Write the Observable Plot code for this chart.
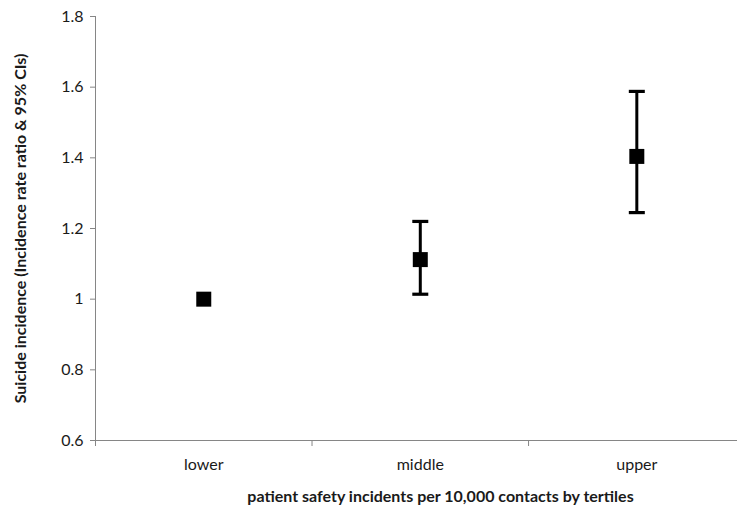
<!DOCTYPE html>
<html>
<head>
<meta charset="utf-8">
<script src="https://cdn.jsdelivr.net/npm/d3@7"></script>
<script src="https://cdn.jsdelivr.net/npm/@observablehq/plot@0.6"></script>
<style>
  html, body { margin: 0; padding: 0; background: #fff; overflow: hidden; }
</style>
</head>
<body>
<div id="chart"></div>
<script>
const categories = ["lower", "middle", "upper"];
const irr = [1.0, 1.112, 1.404];
const ciLow = [null, 1.014, 1.245];
const ciHigh = [null, 1.220, 1.588];
const yTicks = [0.6, 0.8, 1, 1.2, 1.4, 1.6, 1.8];
const yLabel = "Suicide incidence (Incidence rate ratio & 95% CIs)";
const xTitle = "patient safety incidents per 10,000 contacts by tertiles";

const data = categories.map((c, i) => ({cat: c, pos: i + 0.5, irr: irr[i], lo: ciLow[i], hi: ciHigh[i]}));
const withCI = data.filter(d => d.lo != null);

const capSymbol = {
  draw(ctx, size) {
    const r = Math.sqrt(size / Math.PI);
    ctx.moveTo(-r, 0);
    ctx.lineTo(r, 0);
  }
};

const axisColor = "#868686";
const textColor = "#1a1a1a";

const chart = Plot.plot({
  width: 737,
  height: 508,
  marginLeft: 95,
  marginRight: 0,
  marginTop: 16,
  marginBottom: 68,
  style: {fontFamily: "Lato, 'Open Sans', sans-serif", fontSize: "16px", color: textColor, background: "#fff"},
  x: {domain: [0, 2.965], axis: null},
  y: {domain: [0.6, 1.8], axis: null},
  marks: [
    Plot.ruleX([0], {stroke: axisColor}),
    Plot.ruleY([0.6], {stroke: axisColor}),
    Plot.axisY({ticks: yTicks, tickSize: 5, tickPadding: 7, stroke: axisColor, fill: textColor,
      tickFormat: d => String(+d.toFixed(1)), label: null, fontSize: 16}),
    Plot.axisX({ticks: [0, 1, 2], tickSize: 6, stroke: axisColor, tickFormat: () => "", label: null}),
    Plot.axisX({ticks: data.map(d => d.pos), tickSize: 0, tickPadding: 18, fill: textColor,
      tickFormat: d => categories[Math.floor(d)], label: null, fontSize: 16}),
    Plot.ruleX(withCI, {x: "pos", y1: "lo", y2: "hi", stroke: "#000", strokeWidth: 3}),
    Plot.dot(withCI, {x: "pos", y: "lo", symbol: capSymbol, r: 8, stroke: "#000", strokeWidth: 3.2, fill: "none"}),
    Plot.dot(withCI, {x: "pos", y: "hi", symbol: capSymbol, r: 8, stroke: "#000", strokeWidth: 3.2, fill: "none"}),
    Plot.dot(data, {x: "pos", y: "irr", symbol: "square", r: 8.46, fill: "#000", stroke: "none"}),
    Plot.text([yLabel], {frameAnchor: "left", textAnchor: "middle", rotate: -90, dx: -75, fontWeight: "bold", fontSize: 16, fill: textColor}),
    Plot.text([xTitle], {frameAnchor: "bottom", textAnchor: "middle", dx: 24, dy: 61, fontWeight: "bold", fontSize: 16, fill: textColor})
  ]
});
document.getElementById("chart").appendChild(chart);
</script>
</body>
</html>
